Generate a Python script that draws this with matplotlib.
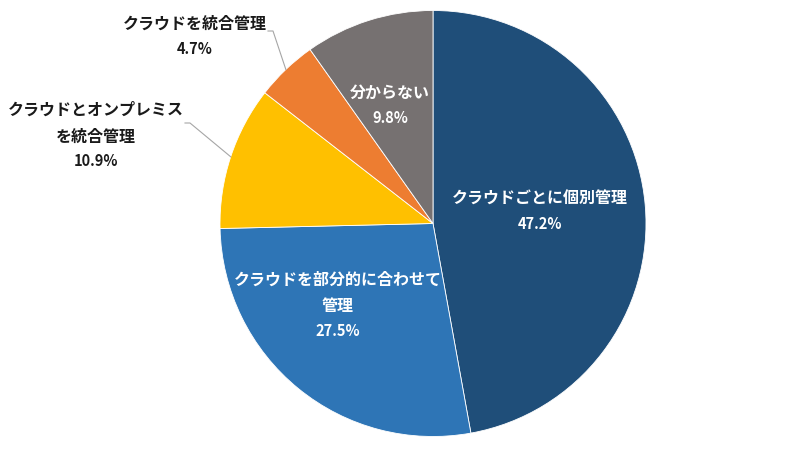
import numpy as np
import matplotlib.pyplot as plt

plt.rcParams["font.family"] = ["Noto Sans CJK JP", "DejaVu Sans"]

# データ（時計回り、12時の位置から）
labels = [
    "クラウドごとに個別管理",
    "クラウドを部分的に合わせて\n管理",
    "クラウドとオンプレミス\nを統合管理",
    "クラウドを統合管理",
    "分からない",
]
values = [47.2, 27.5, 10.9, 4.7, 9.8]
colors = ["#1F4E79", "#2E75B6", "#FFC000", "#ED7D31", "#767171"]

W, H = 800, 454
cx, cy, R = 433, H - 223.5, 213

fig = plt.figure(figsize=(W / 100, H / 100), dpi=100)
ax = fig.add_axes([0, 0, 1, 1])

wedges, _ = ax.pie(
    values,
    colors=colors,
    startangle=90,
    counterclock=False,
    center=(cx, cy),
    radius=R,
    wedgeprops=dict(linewidth=0.6, edgecolor="white"),
)
ax.set_xlim(0, W)
ax.set_ylim(0, H)
ax.set_aspect("equal")
ax.axis("off")


def mid_angle(w):
    return np.deg2rad((w.theta1 + w.theta2) / 2)


def draw_label(i, x, y_top, color):
    # y_top: 一行目の中心（画像上端からのピクセル）
    lines = labels[i].split("\n")
    y = y_top
    for ln in lines:
        ax.text(x, H - y, ln, color=color, fontsize=11.5, fontweight="bold",
                ha="center", va="center")
        y += 26.5
    ax.text(x, H - (y - 1.5), f"{values[i]}%", color=color, fontsize=10.5,
            fontweight="bold", ha="center", va="center")


# 内側のラベル
draw_label(0, 540, 199, "white")
draw_label(1, 338, 280, "white")
draw_label(4, 390, 93, "white")

# 外側のラベルと引き出し線
outside = {
    3: ((195, 24), (273, 31), (268, 31)),
    2: ((96, 110), (190, 123), (185, 123)),
}
for i, (tpos, knee, end) in outside.items():
    a = mid_angle(wedges[i])
    ex = cx + R * np.cos(a)
    ey = cy + R * np.sin(a)
    ax.plot([ex, knee[0], end[0]], [ey, H - knee[1], H - end[1]],
            color="#A6A6A6", linewidth=0.8)
    draw_label(i, tpos[0], tpos[1], "#1A1A1A")

fig.savefig("out.png", dpi=100, facecolor="white")
